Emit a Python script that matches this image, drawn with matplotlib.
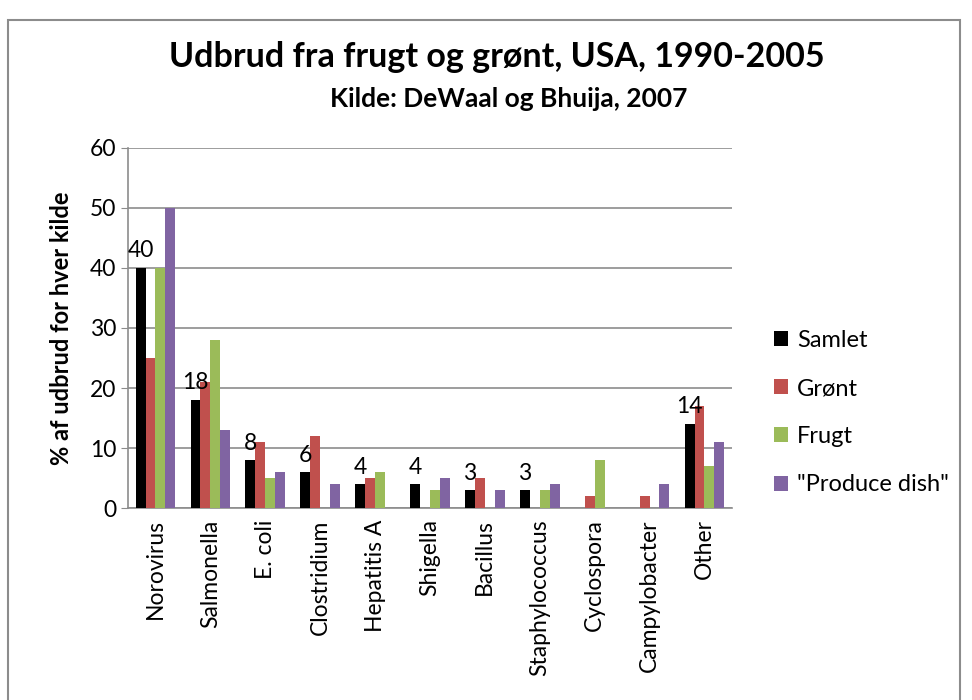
import numpy as np
import matplotlib
matplotlib.use("Agg")
from matplotlib import pyplot as plt
from matplotlib.patches import Rectangle

plt.rcParams['font.family'] = ['Lato', 'DejaVu Sans']

# Data
categories = ["Norovirus", "Salmonella", "E. coli", "Clostridium", "Hepatitis A",
              "Shigella", "Bacillus", "Staphylococcus", "Cyclospora",
              "Campylobacter", "Other"]
samlet = [40, 18, 8, 6, 4, 4, 3, 3, 0, 0, 14]
groent = [25, 21, 11, 12, 5, 0, 5, 0, 2, 2, 17]
frugt = [40, 28, 5, 0, 6, 3, 0, 3, 8, 0, 7]
produce = [50, 13, 6, 4, 0, 5, 3, 4, 0, 4, 11]

series = [("Samlet", samlet, "#000000"),
          ("Grønt", groent, "#c0504d"),
          ("Frugt", frugt, "#9bbb59"),
          ('"Produce dish"', produce, "#8064a2")]

fig = plt.figure(figsize=(9.72, 7.0), dpi=100)
ax = fig.add_axes([0.1317, 0.274, 0.6213, 0.515])

x = np.arange(len(categories))
w = 0.18
for i, (name, vals, col) in enumerate(series):
    pos = x + (i - 1.5) * w
    bars = ax.bar(pos, vals, width=w, color=col, label=name, zorder=3)
    if name == "Samlet":
        for b, v in zip(bars, vals):
            if v > 0:
                ax.text(b.get_x() + b.get_width() / 2, v + 1.1, str(v),
                        ha="center", va="bottom", fontsize=16.5, zorder=4)

ax.set_xlim(-0.5, len(categories) - 0.5)
ax.set_ylim(0, 60)
ax.set_yticks(range(0, 61, 10))
ax.yaxis.grid(True, color="#8c8c8c", linewidth=1.2, zorder=0)
ax.set_axisbelow(True)
ax.set_xticks(x)
ax.set_xticklabels(categories, rotation=90, fontsize=16.5)
ax.tick_params(axis="y", labelsize=16.5, length=5, color="#8c8c8c")
ax.tick_params(axis="x", length=0, pad=8)
for s in ["top", "right"]:
    ax.spines[s].set_visible(False)
for s in ["left", "bottom"]:
    ax.spines[s].set_color("#8c8c8c")
    ax.spines[s].set_linewidth(1.2)

ax.set_ylabel("% af udbrud for hver kilde", fontsize=17, fontweight="bold", labelpad=12)

fig.text(0.511, 0.918, "Udbrud fra frugt og grønt, USA, 1990-2005",
         ha="center", va="center", fontsize=24.5, fontweight="bold")
fig.text(0.523, 0.858, "Kilde: DeWaal og Bhuija, 2007",
         ha="center", va="center", fontsize=19, fontweight="bold")

ax.legend(loc="center left", bbox_to_anchor=(1.035, 0.265), frameon=False,
          fontsize=17, handlelength=0.6, handleheight=0.6, labelspacing=1.15,
          handletextpad=0.35)

fig.patches.append(Rectangle((8 / 972, -0.05), 952 / 972, 1.036 - 10 / 700,
                             transform=fig.transFigure, fill=False,
                             edgecolor="#8c8c8c", linewidth=1.5))

fig.savefig("out.png", dpi=100)
